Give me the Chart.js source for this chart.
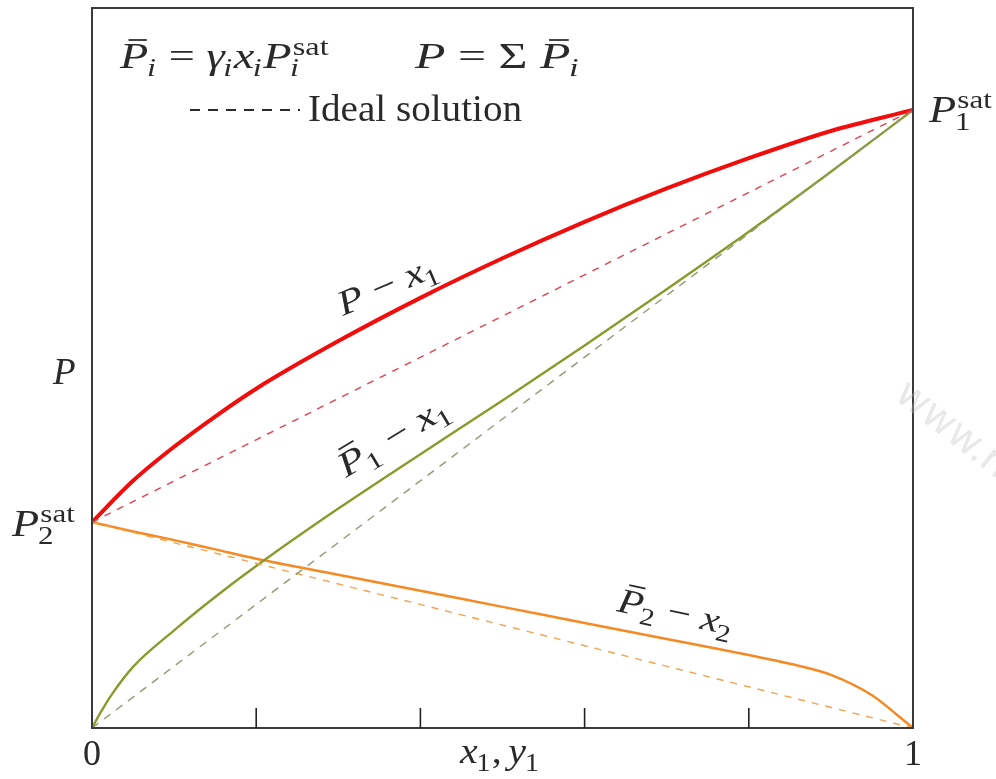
<!DOCTYPE html>
<html>
<head>
<meta charset="utf-8">
<script src="https://cdn.jsdelivr.net/npm/chart.js@4.4.1/dist/chart.umd.min.js"></script>
<style>
  html, body { margin: 0; padding: 0; background: #fff; }
  canvas { display: block; }
</style>
</head>
<body>
<canvas id="vle" width="996" height="779"></canvas>
<script>
// liquid mole fraction of component 1
const x1 = [0, 0.05, 0.1, 0.15, 0.2, 0.3, 0.4, 0.5, 0.6, 0.7, 0.8, 0.9, 1];
const x1Fine = [0, 0.01, 0.025, 0.05, 0.1, 0.15, 0.2, 0.3, 0.4, 0.5, 0.6, 0.7, 0.8, 0.9, 1];
const x1Tail = [0, 0.05, 0.1, 0.15, 0.2, 0.3, 0.4, 0.5, 0.6, 0.7, 0.8, 0.85, 0.9, 0.95, 0.98, 1];
// total pressure and partial pressures (in units of P1sat)
const pTotal = [0.333, 0.400, 0.455, 0.504, 0.549, 0.626, 0.696, 0.760, 0.819, 0.873, 0.922, 0.966, 1];
const pBar1 = [0, 0.024, 0.056, 0.099, 0.158, 0.212, 0.262, 0.355, 0.443, 0.530, 0.619, 0.710, 0.803, 0.900, 1];
const pBar2 = [0.333, 0.318, 0.304, 0.289, 0.274, 0.248, 0.222, 0.196, 0.170, 0.144, 0.118, 0.104, 0.086, 0.053, 0.022, 0];
// ideal solution (Raoult's law) end points
const idealX = [0, 1];
const idealP = [0.333, 1];
const idealP1 = [0, 1];
const idealP2 = [0.333, 0];
const xTicks = [0.2, 0.4, 0.6, 0.8];

const pts = (xs, ys) => xs.map((x, i) => ({ x: x, y: ys[i] }));
const SERIF = '"Liberation Serif", "DejaVu Serif", serif';

// lays out runs of math text (bar, sub/superscripts, gaps); draws unless dry
function mathRun(ctx, parts, size, dry) {
  let cx = 0;
  const small = size * 0.7;
  parts.forEach(p => {
    if (p.g) { cx += p.g; return; }
    if (p.t !== undefined) {
      ctx.font = (p.it ? 'italic ' : '') + size + 'px ' + SERIF;
      const w = ctx.measureText(p.t).width;
      if (!dry) {
        ctx.fillText(p.t, cx, 0);
        if (p.bar) {
          ctx.save();
          ctx.lineWidth = size * 0.05;
          ctx.beginPath();
          ctx.moveTo(cx + w * 0.3, -size * 0.8);
          ctx.lineTo(cx + w * 0.95, -size * 0.8);
          ctx.stroke();
          ctx.restore();
        }
      }
      cx += w;
    } else {
      let w = 0;
      if (p.sup) {
        ctx.font = small + 'px ' + SERIF;
        if (!dry) ctx.fillText(p.sup, cx + 1, -size * 0.38);
        w = Math.max(w, ctx.measureText(p.sup).width + 1);
      }
      if (p.sub) {
        ctx.font = (p.subIt ? 'italic ' : '') + small + 'px ' + SERIF;
        if (!dry) ctx.fillText(p.sub, cx - 1, size * 0.22);
        w = Math.max(w, ctx.measureText(p.sub).width - 1);
      }
      cx += w + 1;
    }
  });
  return cx;
}

// draws math at (x, y), optionally stretched to a given width, rotated by deg
function drawMath(ctx, x, y, parts, size, width, deg) {
  const nat = mathRun(ctx, parts, size, true);
  ctx.save();
  ctx.translate(x, y);
  if (deg) ctx.rotate(deg * Math.PI / 180);
  if (width) ctx.scale(width / nat, 1);
  mathRun(ctx, parts, size, false);
  ctx.restore();
}

const annotations = {
  id: 'annotations',
  afterDraw(chart) {
    const { ctx, chartArea: a, scales } = chart;
    const xs = scales.x;
    ctx.save();

    // frame
    ctx.strokeStyle = '#3a3a3a';
    ctx.lineWidth = 2;
    ctx.strokeRect(a.left, a.top, a.right - a.left, a.bottom - a.top);

    // inward ticks on the bottom axis
    ctx.strokeStyle = '#222';
    ctx.lineWidth = 1.6;
    xTicks.forEach(v => {
      const px = xs.getPixelForValue(v);
      ctx.beginPath();
      ctx.moveTo(px, a.bottom);
      ctx.lineTo(px, a.bottom - 20);
      ctx.stroke();
    });

    ctx.fillStyle = '#2a2a2a';
    ctx.strokeStyle = '#2a2a2a';
    ctx.textBaseline = 'alphabetic';
    ctx.textAlign = 'left';

    // axis numbers and titles
    ctx.font = '36px ' + SERIF;
    ctx.textAlign = 'center';
    ctx.fillText('0', xs.getPixelForValue(0), 765);
    ctx.fillText('1', xs.getPixelForValue(1), 765);
    ctx.textAlign = 'left';
    drawMath(ctx, 460, 763, [
      { t: 'x', it: true }, { sub: '1' }, { t: ',' }, { g: 6 },
      { t: 'y', it: true }, { sub: '1' }
    ], 36, 80);
    drawMath(ctx, 53, 384, [{ t: 'P', it: true }], 37);

    // saturation pressures on the sides
    drawMath(ctx, 12, 536, [{ t: 'P', it: true }, { sup: 'sat', sub: '2' }], 37, 64);
    drawMath(ctx, 929, 122, [{ t: 'P', it: true }, { sup: 'sat', sub: '1' }], 37, 64);

    // header formulas
    drawMath(ctx, 120, 68, [
      { t: 'P', it: true, bar: true }, { sub: 'i', subIt: true }, { t: ' = ' },
      { t: 'γ', it: true }, { sub: 'i', subIt: true },
      { t: 'x', it: true }, { sub: 'i', subIt: true },
      { t: 'P', it: true }, { sup: 'sat', sub: 'i', subIt: true }
    ], 35, 210);
    drawMath(ctx, 415, 68, [
      { t: 'P', it: true }, { t: ' = Σ ' },
      { t: 'P', it: true, bar: true }, { sub: 'i', subIt: true }
    ], 35, 165);

    // legend line for the ideal solution
    ctx.save();
    ctx.lineWidth = 2;
    ctx.setLineDash([10, 8]);
    ctx.beginPath();
    ctx.moveTo(190, 110);
    ctx.lineTo(300, 110);
    ctx.stroke();
    ctx.restore();
    drawMath(ctx, 308, 121, [{ t: 'Ideal solution' }], 37, 214);

    // curve labels, laid along their curves
    drawMath(ctx, 343, 316, [
      { t: 'P', it: true }, { t: ' − ' }, { t: 'x', it: true }, { sub: '1' }
    ], 35, 106, -23);
    drawMath(ctx, 346, 478, [
      { t: 'P', it: true, bar: true }, { sub: '1' }, { t: ' − ' }, { t: 'x', it: true }, { sub: '1' }
    ], 35, 124, -31);
    drawMath(ctx, 616, 611, [
      { t: 'P', it: true, bar: true }, { sub: '2' }, { t: ' − ' }, { t: 'x', it: true }, { sub: '2' }
    ], 35, 118, 12);

    // faint watermark
    ctx.save();
    ctx.translate(893, 398);
    ctx.rotate(38 * Math.PI / 180);
    ctx.fillStyle = 'rgba(190, 190, 190, 0.35)';
    ctx.font = '40px "DejaVu Sans", sans-serif';
    ctx.fillText('www.n', 0, 0);
    ctx.restore();

    ctx.restore();
  }
};

const dashed = (label, ys, color, dash) => ({
  label: label,
  data: pts(idealX, ys),
  borderColor: color,
  borderWidth: 1.4,
  borderDash: dash,
  pointRadius: 0,
  fill: false
});
const solid = (label, xs, ys, color, width) => ({
  label: label,
  data: pts(xs, ys),
  borderColor: color,
  borderWidth: width,
  pointRadius: 0,
  fill: false,
  cubicInterpolationMode: 'monotone'
});

new Chart(document.getElementById('vle'), {
  type: 'line',
  data: {
    datasets: [
      dashed('P ideal', idealP, '#e2414f', [7, 7]),
      dashed('P1 ideal', idealP1, '#8f9a78', [8, 7]),
      dashed('P2 ideal', idealP2, '#f2a24f', [7, 7]),
      solid('P - x1', x1, pTotal, '#f20d0d', 4),
      solid('P1 - x1', x1Fine, pBar1, '#8a9a2c', 2.4),
      solid('P2 - x2', x1Tail, pBar2, '#f58a24', 2.5)
    ]
  },
  options: {
    responsive: false,
    animation: false,
    layout: { padding: { left: 92, right: 83, top: 8, bottom: 51 } },
    scales: {
      x: { type: 'linear', min: 0, max: 1, display: false },
      y: { type: 'linear', min: 0, max: 1.165, display: false }
    },
    plugins: {
      legend: { display: false },
      tooltip: { enabled: false }
    }
  },
  plugins: [annotations]
});
</script>
</body>
</html>
